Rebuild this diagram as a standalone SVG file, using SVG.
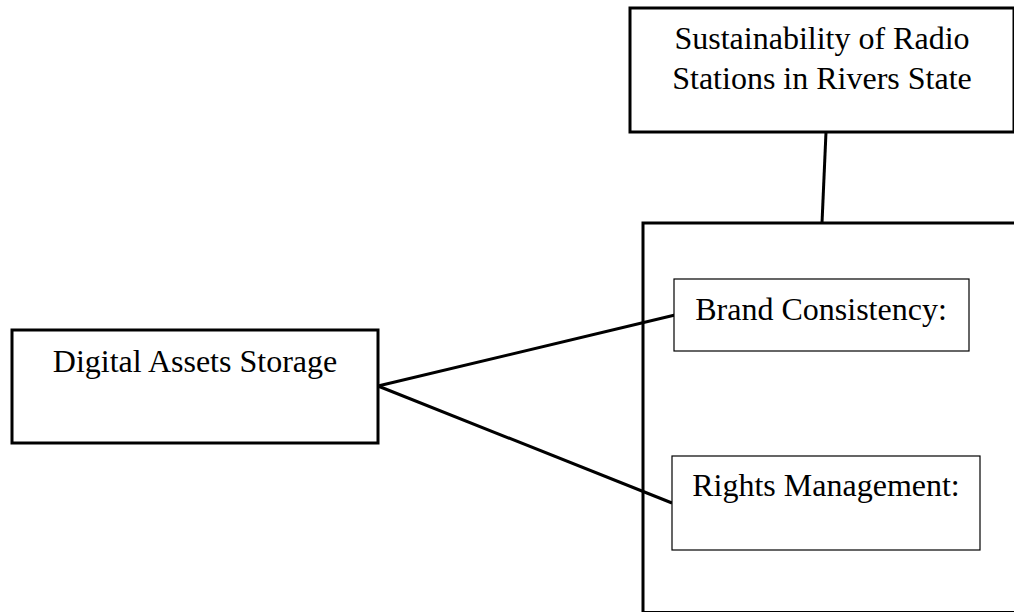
<svg xmlns="http://www.w3.org/2000/svg" width="1014" height="613" viewBox="0 0 1014 613">
<style>
.t{font-family:"Liberation Serif","Times New Roman",serif;font-size:32px;fill:#000;text-anchor:middle}
.thick{fill:#fff;stroke:#000;stroke-width:3}
.thin{fill:#fff;stroke:#000;stroke-width:1.2}
.c{stroke:#000;stroke-width:3;fill:none}
</style>
<rect width="1014" height="613" fill="#fff"/>
<g id="container">
<path d="M1016,223 H643 V611 H1016" fill="#fff" stroke="none"/>
<path d="M1016,223 H643 V612" class="c"/>
<path d="M643,611.5 H1016" stroke="#000" stroke-width="1.2"/>
</g>
<g id="connectors">
<line x1="826" y1="132" x2="822" y2="223" class="c"/>
<line x1="378" y1="386" x2="675" y2="315" class="c"/>
<line x1="378" y1="386" x2="672" y2="503" class="c"/>
</g>
<g id="top">
<rect x="630" y="8" width="384" height="124" class="thick"/>
<text class="t" x="822" y="49">Sustainability of Radio</text>
<text class="t" x="822" y="89">Stations in Rivers State</text>
</g>
<g id="digital">
<rect x="12" y="330" width="366" height="113" class="thick"/>
<text class="t" x="195" y="372">Digital Assets Storage</text>
</g>
<g id="brand">
<rect x="674" y="279" width="295" height="72" class="thin"/>
<text class="t" x="821" y="320">Brand Consistency:</text>
</g>
<g id="rights">
<rect x="672" y="456" width="308" height="94" class="thin"/>
<text class="t" x="826" y="496">Rights Management:</text>
</g>
</svg>
